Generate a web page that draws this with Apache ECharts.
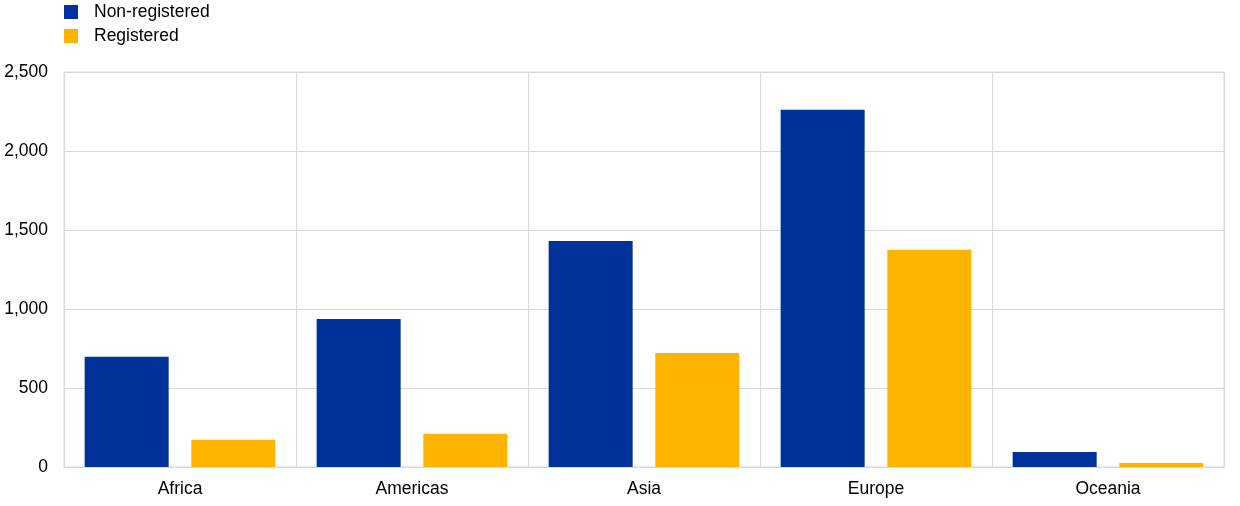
<!DOCTYPE html>
<html><head><meta charset="utf-8">
<script src="https://cdn.jsdelivr.net/npm/echarts@6/dist/echarts.min.js"></script>
<style>html,body{margin:0;padding:0;background:#fff}#c{width:1240px;height:506px}</style>
</head><body><div id="c"></div>
<script>
const categories = ["Africa", "Americas", "Asia", "Europe", "Oceania"];
const nonRegistered = [698, 937, 1430, 2261, 95];
const registered = [172, 210, 722, 1375, 25];
const seriesNames = ["Non-registered", "Registered"];

const chart = echarts.init(document.getElementById('c'));
const font = 'Liberation Sans, Arial, sans-serif';
chart.setOption({
  animation: false,
  textStyle: {fontFamily: font},
  legend: {
    orient: 'vertical', left: 64, top: 3, padding: 0, itemWidth: 14, itemHeight: 14, itemGap: 6,
    icon: 'rect', textStyle: {fontSize: 17.5, color: '#000', fontFamily: font, padding: [0,0,0,11]},
    data: seriesNames
  },
  grid: {left: 64, right: 16, top: 72, bottom: 39, containLabel: false,
    show: true, borderColor: '#d9d9d9', borderWidth: 1},
  xAxis: {
    type: 'category', data: categories,
    axisLine: {lineStyle: {color: '#d9d9d9'}},
    axisTick: {show: false},
    axisLabel: {fontSize: 17.5, color: '#000', margin: 13, fontFamily: font},
    splitLine: {show: true, lineStyle: {color: '#d9d9d9'}}
  },
  yAxis: {
    type: 'value', min: 0, max: 2500, interval: 500,
    axisLine: {show: false}, axisTick: {show: false},
    axisLabel: {fontSize: 17.5, color: '#000', margin: 16, fontFamily: font,
      formatter: v => v.toLocaleString('en-US')},
    splitLine: {lineStyle: {color: '#d9d9d9'}}
  },
  series: [
    {name: seriesNames[0], type: 'bar', data: nonRegistered, barWidth: 84, barGap: '27%',
      itemStyle: {color: '#003299'}},
    {name: seriesNames[1], type: 'bar', data: registered, barWidth: 84,
      itemStyle: {color: '#ffb400'}}
  ]
});
</script></body></html>
